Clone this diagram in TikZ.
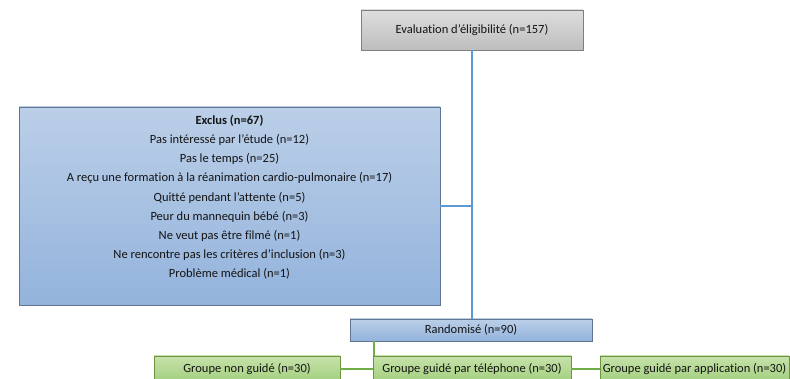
\documentclass[tikz,border=0pt]{standalone}
\usepackage{fontspec}
\setmainfont{Carlito}[Ligatures=NoCommon]
\usepackage{tikz}

\definecolor{greyedge}{HTML}{7F7F7F}
\definecolor{greytop}{HTML}{DEDEDE}
\definecolor{greybot}{HTML}{BDBDBD}
\definecolor{blueedge}{HTML}{5F7590}
\definecolor{bluetop}{HTML}{BBCFE8}
\definecolor{bluebot}{HTML}{93B3DC}
\definecolor{greenedge}{HTML}{6F9440}
\definecolor{greentop}{HTML}{C6E2AA}
\definecolor{greenbot}{HTML}{A3CF7E}
\definecolor{blueline}{HTML}{5B9BD5}
\definecolor{greenline}{HTML}{70AD47}
\definecolor{inktext}{HTML}{141414}

\tikzset{
  box/.style={rectangle,draw,line width=0.9pt,inner sep=0pt,text=inktext,
              font=\fontsize{12.5}{19.2}\selectfont,align=center},
  greybox/.style={box,draw=greyedge,top color=greytop,bottom color=greybot},
  bluebox/.style={box,draw=blueedge,top color=bluetop,bottom color=bluebot},
  greenbox/.style={box,draw=greenedge,top color=greentop,bottom color=greenbot},
  blink/.style={draw=blueline,line width=1.8pt},
  glink/.style={draw=greenline,line width=1.8pt}
}

\begin{document}
\begin{tikzpicture}[x=1pt,y=1pt]
  \useasboundingbox (0,0) rectangle (790,-379);

  \node[greybox,minimum width=222,minimum height=40] (elig) at (472,-30)
       {Evaluation d’éligibilité (n=157)};
  \node[bluebox,minimum width=421,minimum height=198] (excl) at (229.5,-206)
       {\textbf{Exclus (n=67)}\\
        Pas intéressé par l'étude (n=12)\\
        Pas le temps (n=25)\\
        A reçu une formation à la réanimation cardio-pulmonaire (n=17)\\
        Quitté pendant l’attente (n=5)\\
        Peur du mannequin bébé (n=3)\\
        Ne veut pas être filmé (n=1)\\
        Ne rencontre pas les critères d’inclusion (n=3)\\
        Problème médical (n=1)\\
        \mbox{}};
  \node[bluebox,minimum width=242,minimum height=22] (rand) at (471,-330)
       {Randomisé (n=90)};

  \node[greenbox,minimum width=186,minimum height=26] (nong) at (247,-369)
       {Groupe non guidé (n=30)};
  \node[greenbox,minimum width=198,minimum height=26] (tel)  at (472,-369)
       {Groupe guidé par téléphone (n=30)};
  \node[greenbox,minimum width=189,minimum height=26] (app)  at (694.5,-369)
       {Groupe guidé par application (n=30)};

  \draw[blink] (elig.south) -- (elig.south |- rand.north);
  \draw[blink] (excl.east) -- (excl.east -| elig.south);
  \draw[glink] ([xshift=1.5pt]tel.north west |- rand.south)
            -- ([xshift=1.5pt]tel.north west);
  \draw[glink] (nong.east) -- (tel.west);
  \draw[glink] (tel.east) -- (app.west);
\end{tikzpicture}
\end{document}
